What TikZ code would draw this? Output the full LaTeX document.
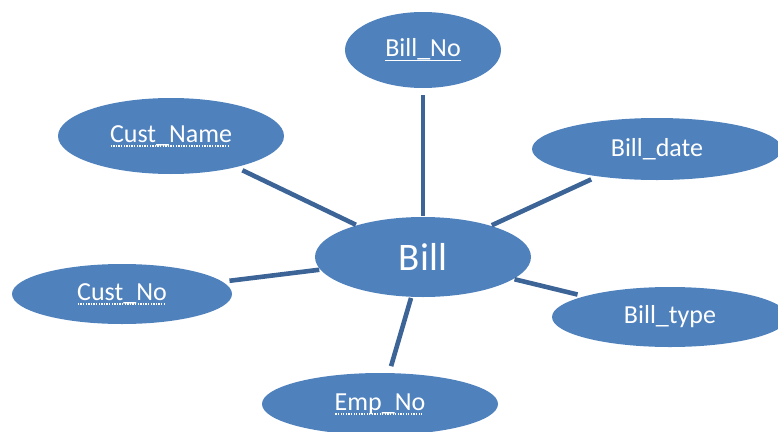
\documentclass[tikz,border=0pt]{standalone}
\usepackage{fontspec}
\setmainfont{Carlito}
\usetikzlibrary{shapes.geometric}
\definecolor{efill}{HTML}{4F81BD}
\definecolor{eline}{HTML}{3C6496}
\newcommand\mydotul[1]{\setbox0\hbox{#1}\rlap{\raisebox{-4.5pt}{\hbox to \wd0{\leaders\hbox to 2.6pt{\hss\rule{1.3pt}{1.3pt}\hss}\hfill}}}\box0}
\newcommand\mysolidul[1]{\setbox0\hbox{#1}\rlap{\raisebox{-4.5pt}{\rule{\wd0}{1.5pt}}}\box0}
\tikzset{
  attr/.style={ellipse, fill=efill, draw=none, text=white, inner sep=0pt, font=\fontsize{26}{30}\selectfont},
  link/.style={draw=eline, line width=4.6pt, shorten >=7pt, shorten <=1pt}
}
\begin{document}
\begin{tikzpicture}[x=1pt,y=-1pt]
\useasboundingbox (0,0) rectangle (778,431);
\node[attr, minimum width=216pt, minimum height=80pt, font=\fontsize{39}{44}\selectfont] (bill) at (423,257) {Bill};
\node[attr, minimum width=156pt, minimum height=76pt] (billno) at (423,50) {\mysolidul{Bill\_No}};
\node[attr, minimum width=226pt, minimum height=76pt] (custname) at (171,136) {\mydotul{Cust\_Name}};
\node[attr, minimum width=220pt, minimum height=60pt] (custno) at (122,294) {\mydotul{Cust\_No}};
\node[attr, minimum width=236pt, minimum height=62pt] (empno) at (380,404) {\mydotul{Emp\_No}};
\node[attr, minimum width=250pt, minimum height=62pt] (billdate) at (657,149) {Bill\_date};
\node[attr, minimum width=236pt, minimum height=60pt] (billtype) at (670,317) {Bill\_type};
\draw[link] (bill) -- (billno);
\draw[link] (bill) -- (custname);
\draw[link] (bill) -- (custno);
\draw[link] (bill) -- (empno);
\draw[link] (bill) -- (billdate);
\draw[link] (bill) -- (billtype);
\end{tikzpicture}
\end{document}
